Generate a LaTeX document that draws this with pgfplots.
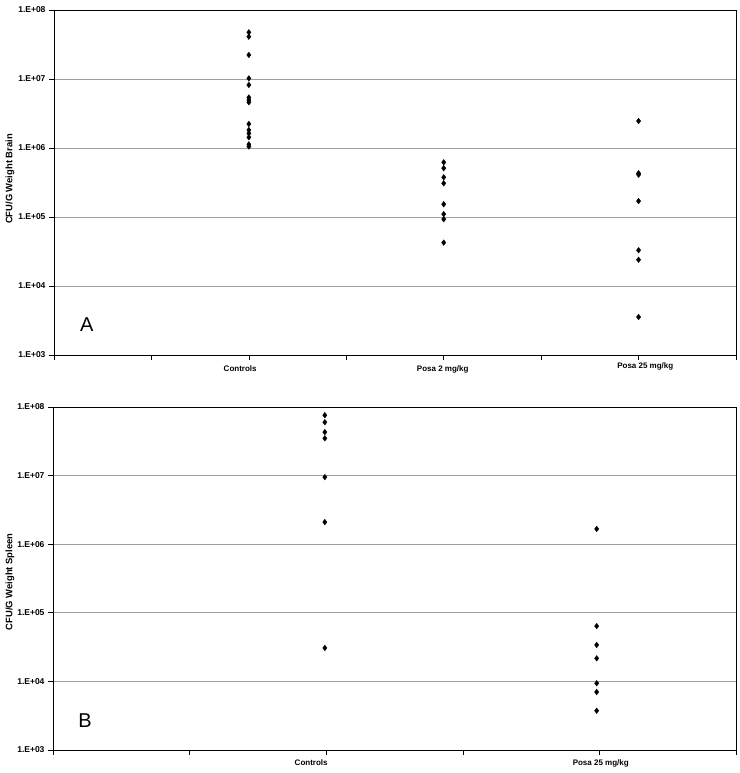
\documentclass[border=0pt]{standalone}
\usepackage{fontspec}
\setmainfont{Liberation Sans}
\usepackage{pgfplots}
\pgfplotsset{compat=1.18}
\tikzset{
 mypts/.style={only marks, mark=diamond*, mark size=2.8pt, black},
 mycat/.style={font=\bfseries\fontsize{8}{9.6}\selectfont},
}
\begin{document}
\begin{tikzpicture}
\path[use as bounding box] (0,0) rectangle (739pt,773pt);
% Panel A
\begin{semilogyaxis}[scale only axis, at={(54pt,418pt)}, anchor=south west, width=682pt, height=345pt,
  xmin=0, xmax=7, xtick={0,1,2,3,4,5,6,7}, xticklabels={},
  ymin=1e3, ymax=1e8,
  ytick={1e3,1e4,1e5,1e6,1e7,1e8},
  yticklabels={1.E+03,1.E+04,1.E+05,1.E+06,1.E+07,1.E+08},
  yminorticks=false,
  ymajorgrids, major grid style={gray!75, line width=0.7pt},
  tick pos=left, tick align=outside, major tick length=5pt,
  tick style={black, line width=0.6pt},
  axis line style={black, line width=0.9pt},
  yticklabel style={font=\bfseries\fontsize{8.5}{10}\selectfont},
  ylabel style={at={(axis description cs:-0.0645,0.51)}, anchor=center, font=\bfseries\fontsize{9.4}{11}\selectfont},
  clip=false,
  ylabel={CFU/G Weight Brain}]
\addplot[mypts] coordinates {
 (2,4.75e7) (2,4.1e7) (2,2.23e7) (2,1.02e7) (2,8.2e6) (2,5.4e6) (2,4.97e6)
 (2,4.6e6) (2,2.23e6) (2,1.82e6) (2,1.63e6) (2,1.43e6) (2,1.13e6) (2,1.05e6)};
\addplot[mypts] coordinates {
 (4,6.2e5) (4,5.1e5) (4,3.76e5) (4,3.08e5) (4,1.53e5) (4,1.1e5) (4,9.3e4) (4,4.25e4)};
\addplot[mypts] coordinates {
 (6,2.46e6) (6,4.3e5) (6,4.1e5) (6,1.7e5) (6,3.3e4) (6,2.4e4) (6,3.55e3)};
\node[mycat] at (rel axis cs:0.273,0) [yshift=-14pt] {Controls};
\node[mycat] at (rel axis cs:0.570,0) [yshift=-14pt] {Posa 2 mg/kg};
\node[mycat] at (rel axis cs:0.867,0) [yshift=-11pt] {Posa 25 mg/kg};
\node[font=\fontsize{20}{24}\selectfont] at (rel axis cs:0.048,0.087) {A};
\end{semilogyaxis}
% Panel B
\begin{semilogyaxis}[scale only axis, at={(53pt,23pt)}, anchor=south west, width=683pt, height=343pt,
  xmin=0, xmax=5, xtick={0,1,2,3,4,5}, xticklabels={},
  ymin=1e3, ymax=1e8,
  ytick={1e3,1e4,1e5,1e6,1e7,1e8},
  yticklabels={1.E+03,1.E+04,1.E+05,1.E+06,1.E+07,1.E+08},
  yminorticks=false,
  ymajorgrids, major grid style={gray!75, line width=0.7pt},
  tick pos=left, tick align=outside, major tick length=5pt,
  tick style={black, line width=0.6pt},
  axis line style={black, line width=0.9pt},
  yticklabel style={font=\bfseries\fontsize{8.5}{10}\selectfont},
  ylabel style={at={(axis description cs:-0.0629,0.49)}, anchor=center, font=\bfseries\fontsize{9.4}{11}\selectfont},
  clip=false,
  ylabel={CFU/G Weight Spleen}]
\addplot[mypts] coordinates {
 (1.99,7.6e7) (1.99,6.0e7) (1.99,4.3e7) (1.99,3.5e7) (1.99,9.5e6) (1.99,2.1e6) (1.99,3.07e4)};
\addplot[mypts] coordinates {
 (3.98,1.67e6) (3.98,6.4e4) (3.98,3.4e4) (3.98,2.17e4) (3.98,9.4e3) (3.98,7.0e3) (3.98,3.74e3)};
\node[mycat] at (rel axis cs:0.378,0) [yshift=-13pt] {Controls};
\node[mycat] at (rel axis cs:0.802,0) [yshift=-13pt] {Posa 25 mg/kg};
\node[font=\fontsize{20}{24}\selectfont] at (rel axis cs:0.047,0.087) {B};
\end{semilogyaxis}
\end{tikzpicture}
\end{document}
